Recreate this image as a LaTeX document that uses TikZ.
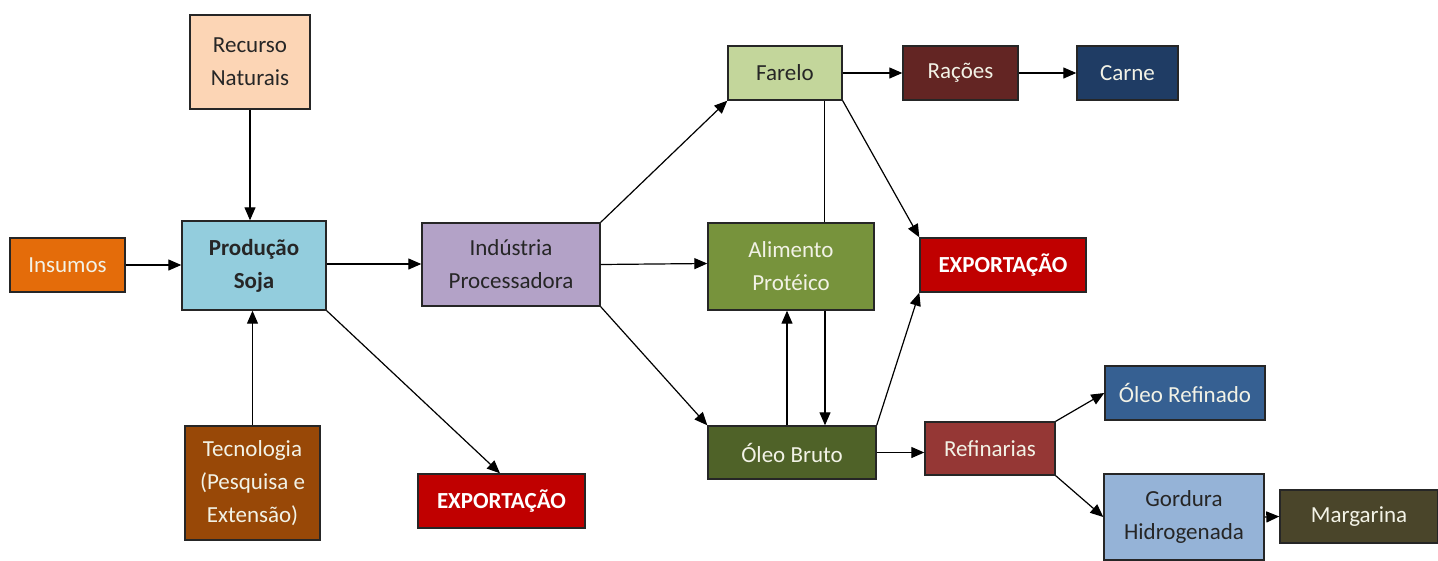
\documentclass[tikz,border=0pt]{standalone}
\usepackage{fontspec}
\setmainfont{Carlito}
\usetikzlibrary{arrows.meta}
\definecolor{cIns}{HTML}{E46C0A}
\definecolor{cRec}{HTML}{FCD5B5}
\definecolor{cProd}{HTML}{93CDDD}
\definecolor{cTec}{HTML}{984807}
\definecolor{cInd}{HTML}{B3A2C7}
\definecolor{cExp}{HTML}{C00000}
\definecolor{cFar}{HTML}{C3D69B}
\definecolor{cRac}{HTML}{632523}
\definecolor{cCar}{HTML}{1F3C64}
\definecolor{cAli}{HTML}{77933C}
\definecolor{cOleo}{HTML}{4F6228}
\definecolor{cRef}{HTML}{953735}
\definecolor{cOref}{HTML}{366092}
\definecolor{cGor}{HTML}{95B3D7}
\definecolor{cMar}{HTML}{4A452A}
\definecolor{dtext}{HTML}{262626}
\definecolor{ltext}{HTML}{F2F2E6}
\tikzset{
  box/.style n args={3}{draw=black!85, line width=1.4pt, inner sep=0pt, align=center,
    minimum width=#1, minimum height=#2, fill=#3,
    font=\fontsize{23}{33}\selectfont},
  dk/.style={text=dtext},
  lt/.style={text=ltext},
  arr/.style={line width=1.2pt, -{Triangle[length=13pt,width=11pt]}},
  ln/.style={line width=1pt}
}
\begin{document}
\begin{tikzpicture}[x=1pt,y=-1pt]
\useasboundingbox (0,0) rectangle (1438,560);
\node[box={115pt}{54pt}{cIns},lt] (ins) at (67.5,265) {Insumos};
\node[box={120pt}{94pt}{cRec},dk] (rec) at (250,62) {Recurso\\Naturais};
\node[box={144pt}{89pt}{cProd},dk,font=\fontsize{23}{33}\selectfont\bfseries] (prod) at (254,265.5) {Produção\\Soja};
\node[box={135pt}{114pt}{cTec},lt] (tec) at (252.5,483) {Tecnologia\\(Pesquisa e\\Extensão)};
\node[box={178pt}{83pt}{cInd},dk] (ind) at (511,264.5) {Indústria\\Processadora};
\node[box={167pt}{54pt}{cExp},text=white,font=\fontsize{23}{33}\selectfont\bfseries] (exp1) at (501.5,501) {EXPORTAÇÃO};
\node[box={114pt}{54pt}{cFar},dk] (far) at (785,73) {Farelo};
\node[box={115pt}{54pt}{cRac},lt] (rac) at (960.5,73) {Rações};
\node[box={101pt}{54pt}{cCar},lt] (car) at (1127.5,73) {Carne};
\node[box={166pt}{87pt}{cAli},lt] (ali) at (791,266.5) {Alimento\\Protéico};
\node[box={166pt}{54pt}{cExp},text=white,font=\fontsize{23}{33}\selectfont\bfseries] (exp2) at (1003,265) {EXPORTAÇÃO};
\node[box={168pt}{53pt}{cOleo},lt] (oleo) at (792,452.5) {Óleo Bruto};
\node[box={130pt}{53pt}{cRef},lt] (ref) at (990,448.5) {Refinarias};
\node[box={160pt}{54pt}{cOref},lt] (oref) at (1185,393) {Óleo Refinado};
\node[box={160pt}{86pt}{cGor},dk] (gor) at (1184,517) {Gordura\\Hidrogenada};
\node[box={158pt}{53pt}{cMar},lt] (mar) at (1359,516.5) {Margarina};

\draw[arr] (ins.east) -- (ins.east -| prod.west);
\draw[arr] (rec.south) -- (rec.south |- prod.north);
\draw[arr] (tec.north) -- (tec.north |- prod.south);
\draw[arr] ([yshift=1.5pt]prod.east) -- ([yshift=1.5pt]prod.east -| ind.west);
\draw[arr] (prod.south east) -- ([xshift=-1.5pt]exp1.north);
\draw[arr] (ind.north east) -- (far.south west);
\draw[arr] (ind.east) -- ([yshift=3pt]ali.west);
\draw[arr] (ind.south east) -- (oleo.north west);
\draw[arr] (far.east) -- (rac.west);
\draw[arr] (rac.east) -- (car.west);
\draw[ln] ([xshift=39pt]far.south) -- ([xshift=39pt]far.south |- ali.north);
\draw[arr] (far.south east) -- (exp2.north west);
\draw[arr] ([xshift=-5pt]oleo.north) -- ([xshift=-5pt]oleo.north |- ali.south);
\draw[arr] ([xshift=34pt]ali.south) -- ([xshift=34pt]ali.south |- oleo.north);
\draw[arr] (oleo.north east) -- (exp2.south west);
\draw[arr] (oleo.east) -- (oleo.east -| ref.west);
\draw[arr] (ref.north east) -- (oref.west);
\draw[arr] (ref.south east) -- (gor.west);
\draw[arr] (gor.east) -- (mar.west);
\end{tikzpicture}
\end{document}
